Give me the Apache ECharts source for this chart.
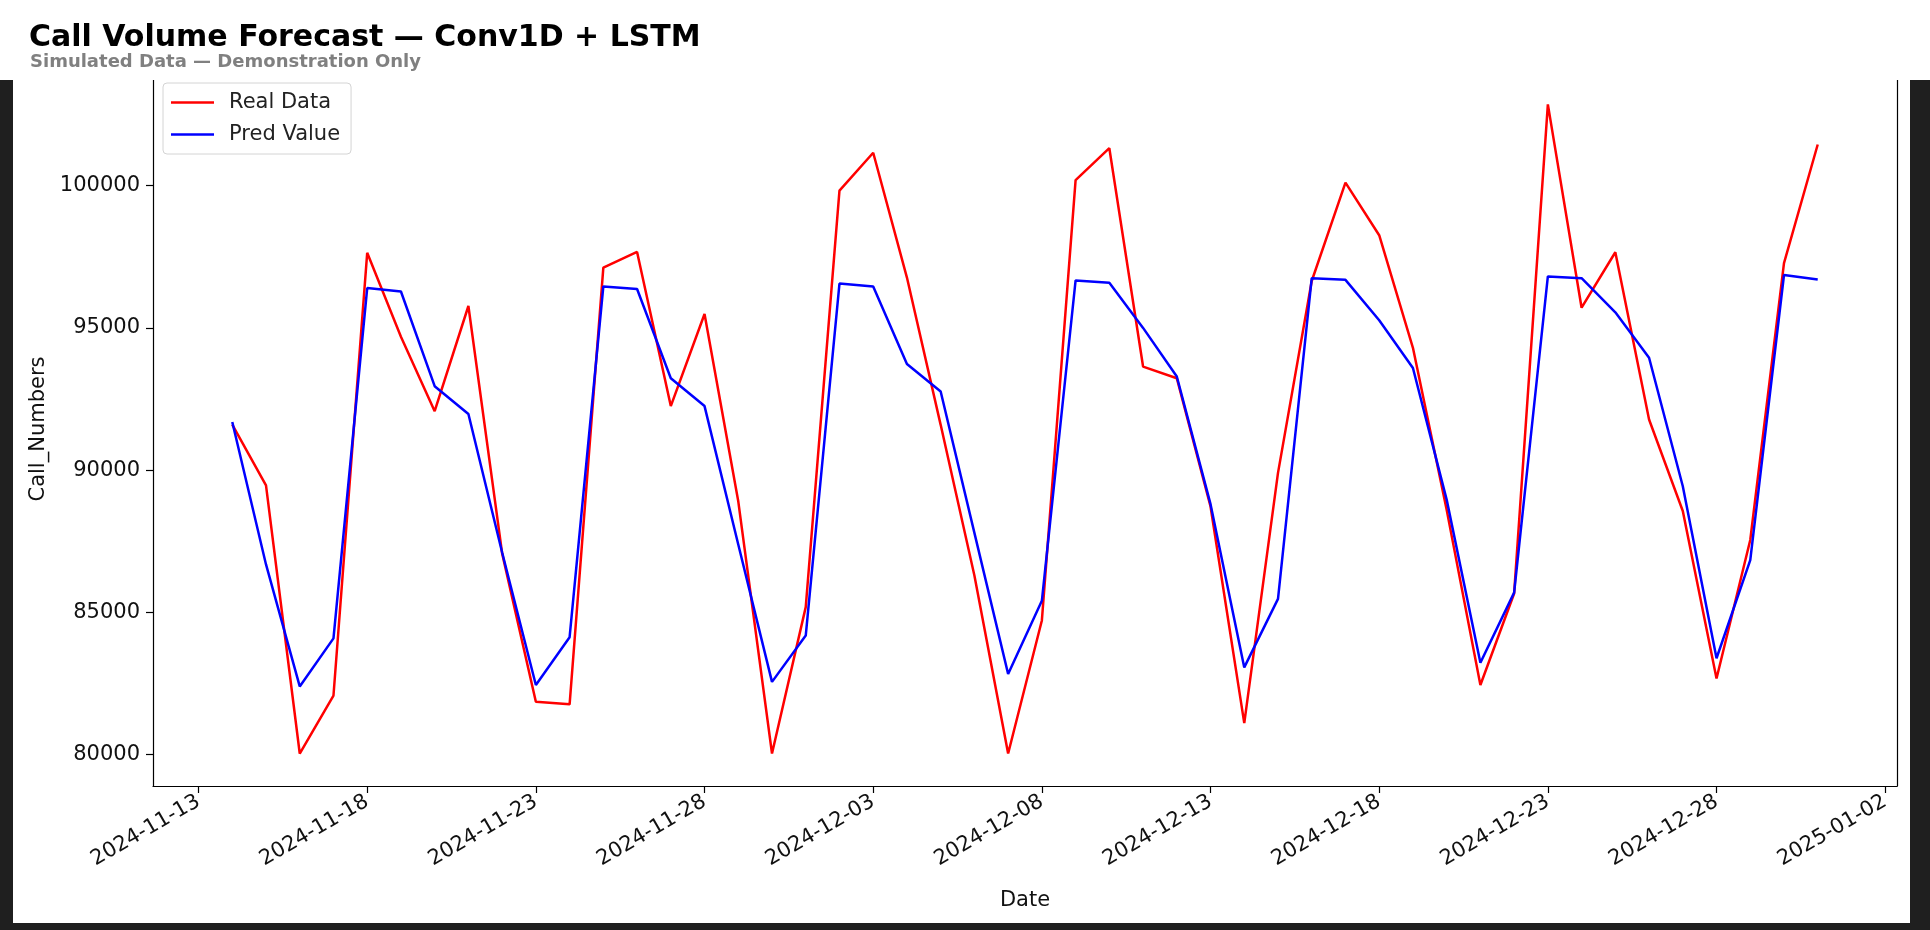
<!DOCTYPE html>
<html>
<head>
<meta charset="utf-8">
<script src="https://cdn.jsdelivr.net/npm/echarts@6/dist/echarts.min.js"></script>
<style>
  html, body { margin: 0; padding: 0; background: #1f1f1f; }
  #main { width: 1930px; height: 930px; }
</style>
</head>
<body>
<div id="main"></div>
<script>
// daily dates shown on the chart
var dates = [
  '2024-11-14','2024-11-15','2024-11-16','2024-11-17','2024-11-18','2024-11-19','2024-11-20','2024-11-21',
  '2024-11-22','2024-11-23','2024-11-24','2024-11-25','2024-11-26','2024-11-27','2024-11-28','2024-11-29',
  '2024-11-30','2024-12-01','2024-12-02','2024-12-03','2024-12-04','2024-12-05','2024-12-06','2024-12-07',
  '2024-12-08','2024-12-09','2024-12-10','2024-12-11','2024-12-12','2024-12-13','2024-12-14','2024-12-15',
  '2024-12-16','2024-12-17','2024-12-18','2024-12-19','2024-12-20','2024-12-21','2024-12-22','2024-12-23',
  '2024-12-24','2024-12-25','2024-12-26','2024-12-27','2024-12-28','2024-12-29','2024-12-30','2024-12-31'
];

var realData = [
  91600, 89460, 80030, 82070, 97640, 94690, 92070, 95770,
  87070, 81850, 81760, 97120, 97670, 92250, 95490, 88900,
  80030, 85180, 99830, 101160, 96770, 91590, 86290, 80030,
  84710, 100200, 101320, 93640, 93230, 88720, 81100, 89900,
  96650, 100110, 98260, 94300, 88600, 82440, 85660, 102860,
  95710, 97660, 91780, 88560, 82670, 87540, 97280, 101450
];

var predValue = [
  91690, 86680, 82390, 84080, 96400, 96280, 92950, 91970,
  87100, 82440, 84120, 96460, 96370, 93230, 92250, 87380,
  82550, 84180, 96560, 96460, 93730, 92760, 87790, 82830,
  85400, 96670, 96590, 95000, 93290, 88800, 83060, 85470,
  96750, 96690, 95270, 93590, 88960, 83220, 85690, 96810,
  96750, 95550, 93950, 89430, 83380, 86830, 96860, 96700
];

// x tick positions, in days after 2024-11-13
var xTicks = [0, 5, 10, 15, 20, 25, 30, 35, 40, 45, 50];
var yTicks = [80000, 85000, 90000, 95000, 100000];

var DAY = 86400000;
var base = Date.parse('2024-11-13');
function toDay(s) { return (Date.parse(s) - base) / DAY; }
function fmtDay(v) {
  var d = new Date(base + Math.round(v) * DAY);
  var m = d.getUTCMonth() + 1, dd = d.getUTCDate();
  return d.getUTCFullYear() + '-' + (m < 10 ? '0' : '') + m + '-' + (dd < 10 ? '0' : '') + dd;
}

var realPts = dates.map(function (d, i) { return [toDay(d), realData[i]]; });
var predPts = dates.map(function (d, i) { return [toDay(d), predValue[i]]; });

var font = 'DejaVu Sans';
var chart = echarts.init(document.getElementById('main'));

chart.setOption({
  animation: false,
  backgroundColor: 'transparent',
  title: [
    { text: 'Call Volume Forecast — Conv1D + LSTM', left: 24, top: 18, z: 20,
      textStyle: { fontFamily: font, fontSize: 30, fontWeight: 'bold', color: '#000' } },
    { text: 'Simulated Data — Demonstration Only', left: 25, top: 48, z: 20,
      textStyle: { fontFamily: font, fontSize: 18, fontWeight: 'bold', color: '#808080' } }
  ],
  graphic: [
    { type: 'rect', z: -10, shape: { x: 13, y: 0, width: 1897, height: 923 }, style: { fill: '#fff' } },
    { type: 'rect', z: 10, shape: { x: 0, y: 0, width: 1930, height: 80 }, style: { fill: '#fff' } }
  ],
  legend: {
    orient: 'vertical',
    left: 163, top: 83,
    padding: [9, 11, 9, 8],
    icon: 'rect',
    itemWidth: 43, itemHeight: 2.5, itemGap: 11,
    backgroundColor: 'rgba(255,255,255,0.8)',
    borderColor: '#d4d4d4', borderWidth: 1, borderRadius: 4,
    textStyle: { fontFamily: font, fontSize: 21, color: '#222', padding: [0, 0, 0, 10] },
    data: ['Real Data', 'Pred Value']
  },
  grid: { left: 153, right: 33, top: 72, bottom: 144 },
  xAxis: {
    type: 'value', min: -1.35, max: 50.35,
    name: 'Date', nameLocation: 'middle', nameGap: 104,
    nameTextStyle: { fontFamily: font, fontSize: 21, color: '#111' },
    splitLine: { show: false },
    axisLine: { show: true, onZero: false, lineStyle: { color: '#000', width: 1.2 } },
    axisTick: { show: true, customValues: xTicks, length: 7, lineStyle: { color: '#000', width: 1.2 } },
    axisLabel: { customValues: xTicks, rotate: 30, margin: 14, formatter: fmtDay,
      fontFamily: font, fontSize: 21, color: '#111' }
  },
  yAxis: [{
    type: 'value', min: 78888, max: 104000,
    name: 'Call_Numbers', nameLocation: 'middle', nameGap: 103, nameRotate: 90,
    nameTextStyle: { fontFamily: font, fontSize: 21, color: '#111' },
    splitLine: { show: false },
    axisLine: { show: true, onZero: false, lineStyle: { color: '#000', width: 1.2 } },
    axisTick: { show: true, customValues: yTicks, length: 7, lineStyle: { color: '#000', width: 1.2 } },
    axisLabel: { customValues: yTicks, margin: 13, formatter: function (v) { return String(v); },
      fontFamily: font, fontSize: 21, color: '#111' }
  }, {
    type: 'value', position: 'right', min: 78888, max: 104000,
    splitLine: { show: false },
    axisLine: { show: true, onZero: false, lineStyle: { color: '#000', width: 1.2 } },
    axisTick: { show: false }, axisLabel: { show: false }
  }],
  series: [
    { name: 'Real Data', type: 'line', data: realPts, symbol: 'none',
      lineStyle: { color: '#ff0000', width: 2.5 }, itemStyle: { color: '#ff0000' } },
    { name: 'Pred Value', type: 'line', data: predPts, symbol: 'none',
      lineStyle: { color: '#0000ff', width: 2.5 }, itemStyle: { color: '#0000ff' } }
  ]
});
</script>
</body>
</html>
